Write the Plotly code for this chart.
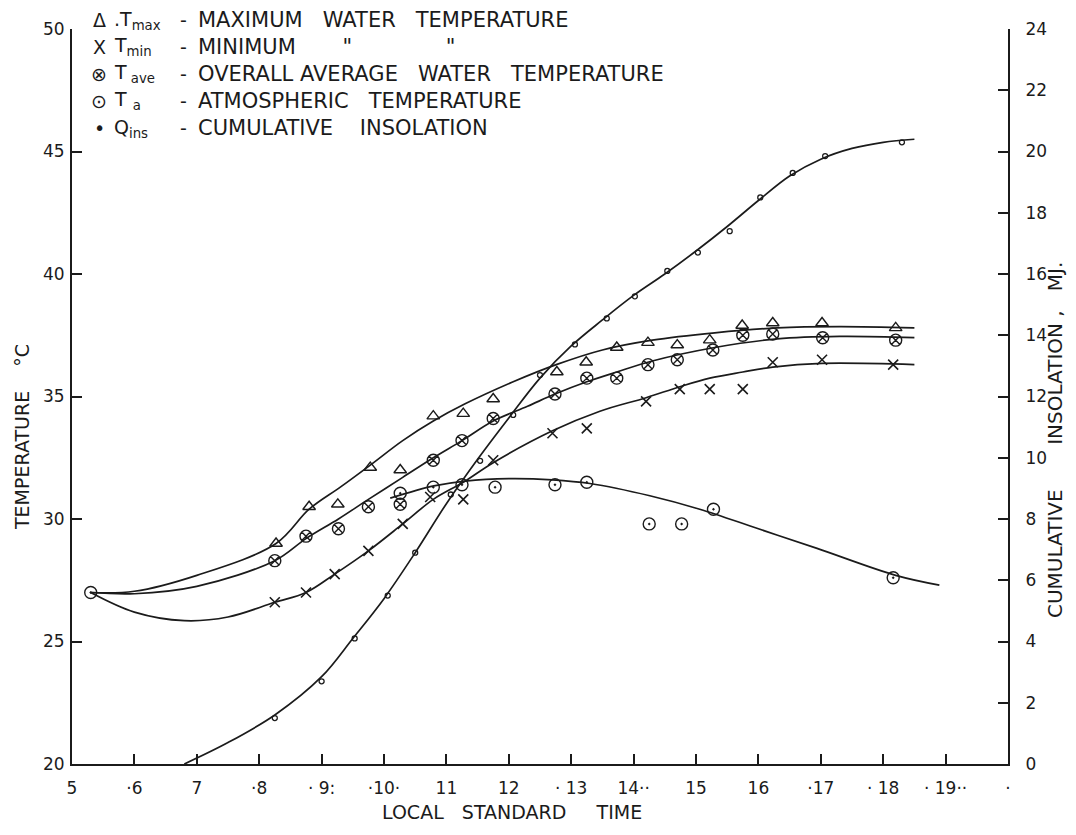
import plotly.graph_objects as go

# ---------------- data ----------------
# Maximum water temperature (triangles)
tmax_t = [8.27, 8.8, 9.26, 9.78, 10.26, 10.79, 11.27, 11.75, 12.77, 13.24, 13.73, 14.23, 14.7, 15.22, 15.74, 16.23, 17.02, 18.2]
tmax_v = [29.0, 30.5, 30.6, 32.1, 32.0, 34.2, 34.3, 34.9, 36.0, 36.4, 37.0, 37.2, 37.1, 37.3, 37.9, 38.0, 38.0, 37.8]
# Minimum water temperature (crosses)
tmin_t = [8.25, 8.75, 9.21, 9.75, 10.3, 10.74, 11.27, 11.75, 12.7, 13.25, 14.2, 14.74, 15.22, 15.75, 16.23, 17.02, 18.16]
tmin_v = [26.6, 27.0, 27.75, 28.7, 29.8, 30.9, 30.8, 32.4, 33.5, 33.7, 34.8, 35.3, 35.3, 35.3, 36.4, 36.5, 36.3]
# Overall average water temperature
tave_t = [8.25, 8.75, 9.27, 9.75, 10.26, 10.79, 11.25, 11.75, 12.74, 13.25, 13.73, 14.23, 14.7, 15.27, 15.75, 16.23, 17.03, 18.2]
tave_v = [28.3, 29.3, 29.6, 30.5, 30.6, 32.4, 33.2, 34.1, 35.1, 35.75, 35.75, 36.3, 36.5, 36.9, 37.5, 37.55, 37.4, 37.3]
# Atmospheric temperature
ta_t = [5.3, 10.26, 10.79, 11.25, 11.78, 12.74, 13.25, 14.25, 14.77, 15.28, 18.16]
ta_v = [27.0, 31.05, 31.3, 31.4, 31.3, 31.4, 31.5, 29.8, 29.8, 30.4, 27.6]
# Cumulative insolation (MJ)
q_t = [8.25, 9.0, 9.53, 10.06, 10.5, 11.07, 11.54, 12.07, 12.5, 13.06, 13.57, 14.02, 14.54, 15.03, 15.54, 16.03, 16.55, 17.07, 18.3]
q_v = [1.5, 2.7, 4.1, 5.5, 6.9, 8.8, 9.9, 11.4, 12.7, 13.7, 14.55, 15.27, 16.1, 16.7, 17.4, 18.5, 19.3, 19.85, 20.3]

# hand-drawn fitted curves (knots)
tmax_curve_t = [5.3, 6.0, 7.0, 8.27, 8.8, 9.3, 9.78, 10.3, 10.79, 11.3, 12.07, 12.76, 13.5, 14.3, 15.3, 16.3, 17.3, 18.5]
tmax_curve_v = [27.0, 27.05, 27.7, 29.0, 30.4, 31.3, 32.2, 33.2, 34.0, 34.7, 35.6, 36.3, 36.9, 37.3, 37.6, 37.8, 37.85, 37.8]
tave_curve_t = [5.3, 6.0, 7.0, 8.25, 8.75, 9.27, 9.75, 10.3, 10.79, 11.25, 11.75, 12.3, 12.74, 13.25, 13.73, 14.3, 15.3, 16.3, 17.3, 18.5]
tave_curve_v = [27.0, 26.95, 27.25, 28.3, 29.2, 30.0, 30.8, 31.7, 32.5, 33.2, 34.0, 34.6, 35.1, 35.6, 36.0, 36.45, 37.0, 37.35, 37.45, 37.4]
tmin_curve_t = [5.3, 6.0, 6.8, 7.5, 8.25, 8.75, 9.21, 9.75, 10.3, 10.79, 11.27, 11.75, 12.7, 13.46, 14.2, 14.74, 15.22, 15.75, 16.23, 17.02, 18.5]
tmin_curve_v = [27.0, 26.2, 25.85, 26.0, 26.6, 27.0, 27.75, 28.7, 29.8, 30.8, 31.5, 32.3, 33.6, 34.4, 34.95, 35.4, 35.75, 36.0, 36.2, 36.35, 36.3]
ta_curve_t = [10.1, 10.8, 11.3, 12.0, 12.7, 13.3, 14.26, 15.06, 16.0, 16.94, 18.2, 18.9]
ta_curve_v = [30.85, 31.35, 31.55, 31.65, 31.6, 31.45, 30.95, 30.4, 29.6, 28.8, 27.7, 27.3]
q_curve_t = [6.8, 7.5, 8.25, 9.0, 9.5, 10.0, 10.5, 11.0, 11.5, 12.0, 12.5, 13.0, 13.5, 14.0, 14.5, 15.0, 15.5, 16.0, 16.5, 17.0, 17.5, 18.0, 18.5]
q_curve_v = [0.0, 0.7, 1.6, 2.85, 4.1, 5.4, 6.9, 8.5, 9.95, 11.3, 12.6, 13.65, 14.5, 15.3, 16.0, 16.75, 17.55, 18.4, 19.2, 19.75, 20.1, 20.3, 20.4]

# axis ticks
x_tickvals = list(range(5, 21))
x_ticktext = ["5", "·6", "7", "·8", "· 9:", "·10·", "11", "12", "· 13", "14··", "15", "16", "·17", "· 18", "· 19··", "·"]
y_tickvals = [20, 25, 30, 35, 40, 45, 50]
y2_tickvals = list(range(0, 25, 2))

NB = "\u00a0"
legend_symbols = ["Δ", "X", "⊗", "⊙", "•"]
legend_names = [".T<sub>max</sub>", "T<sub>min</sub>", "T<sub>" + NB + "ave</sub>", "T" + NB + "<sub>a</sub>", "Q<sub>ins</sub>"]
legend_texts = ["MAXIMUM" + NB * 3 + "WATER" + NB * 3 + "TEMPERATURE",
                "MINIMUM" + NB * 7 + '"' + NB * 14 + '"',
                "OVERALL AVERAGE" + NB * 3 + "WATER" + NB * 3 + "TEMPERATURE",
                "ATMOSPHERIC" + NB * 3 + "TEMPERATURE",
                "CUMULATIVE" + NB * 4 + "INSOLATION"]

# ---------------- figure ----------------
INK = "#1b1b1b"
FONT = "DejaVu Sans"
OFF = 8  # page body margin of the browser (screen px = figure px + OFF)

fig = go.Figure()

def curve(x, y, axis="y"):
    fig.add_trace(go.Scatter(x=x, y=y, mode="lines", yaxis=axis, showlegend=False,
                             line=dict(color=INK, width=1.7, shape="spline", smoothing=1.0),
                             hoverinfo="skip"))

curve(tmax_curve_t, tmax_curve_v)
curve(tave_curve_t, tave_curve_v)
curve(tmin_curve_t, tmin_curve_v)
curve(ta_curve_t, ta_curve_v)
curve(q_curve_t, q_curve_v, "y2")

def marks(x, y, symbol, size, axis="y", width=1.4):
    fig.add_trace(go.Scatter(x=x, y=y, mode="markers", yaxis=axis, showlegend=False,
                             marker=dict(symbol=symbol, size=size, color=INK,
                                         line=dict(color=INK, width=width))))

marks(tmax_t, tmax_v, "triangle-up-open", 11)
marks(tave_t, tave_v, "circle-x-open", 12)
marks(tmin_t, tmin_v, "x-thin-open", 10, width=1.6)
marks(ta_t, ta_v, "circle-open-dot", 12)
marks(q_t, q_v, "circle-open", 5, axis="y2", width=1.3)

# layout geometry (screen px targets: plot area x 72..1008, y 29..764)
W, H = 1076 - 2 * OFF, 835 - 2 * OFF
L, T = 72 - OFF, 29 - OFF
R = W - (1008 - OFF)
B = H - (764 - OFF)
PW, PH = W - L - R, H - T - B

def px(xs, ys):
    return (xs - OFF - L) / PW, 1 - (ys - OFF - T) / PH

# legend block as text (screen px positions)
row_y = [20, 47, 74, 101, 128]
ann = []
for i in range(5):
    for xs, txt, anchor, fs in [(99, legend_symbols[i], "center", 19), (112, legend_names[i], "left", 19),
                                (183, "-", "center", 19), (196, legend_texts[i], "left", 21)]:
        x, y = px(xs, row_y[i])
        ann.append(dict(x=x, y=y, text=txt, showarrow=False, xref="paper", yref="paper",
                        font=dict(size=fs, color=INK, family=FONT), xanchor=anchor, yanchor="middle"))

x, y = px(22, 437)
ann.append(dict(x=x, y=y, xref="paper", yref="paper", showarrow=False, xanchor="center", yanchor="middle",
                text="TEMPERATURE" + NB * 4 + "°C", textangle=-90, font=dict(size=19, color=INK, family=FONT)))
x, y = px(1055, 440)
ann.append(dict(x=x, y=y, xref="paper", yref="paper", showarrow=False, xanchor="center", yanchor="middle",
                text="CUMULATIVE" + NB * 7 + "INSOLATION" + NB + "," + NB * 3 + "MJ.", textangle=-90,
                font=dict(size=20, color=INK, family=FONT)))
x, y = px(512, 812)
ann.append(dict(x=x, y=y, xref="paper", yref="paper", showarrow=False, xanchor="center", yanchor="middle",
                text="LOCAL" + NB * 3 + "STANDARD" + NB * 5 + "TIME", font=dict(size=19, color=INK, family=FONT)))

axis_common = dict(ticks="inside", ticklen=10, tickwidth=1.5, tickcolor=INK, showline=True,
                   linecolor=INK, linewidth=2, showgrid=False, zeroline=False,
                   tickfont=dict(size=17, family=FONT, color=INK))

fig.update_layout(
    width=W, height=H,
    margin=dict(l=L, r=R, t=T, b=B),
    paper_bgcolor="white", plot_bgcolor="white",
    showlegend=False,
    font=dict(family=FONT, color=INK, size=16),
    annotations=ann,
    xaxis=dict(range=[5, 20], tickvals=x_tickvals, ticktext=x_ticktext, ticklabelstandoff=8, **axis_common),
    yaxis=dict(range=[20, 50], tickvals=y_tickvals, ticklabelstandoff=2, **axis_common),
    yaxis2=dict(range=[0, 24], tickvals=y2_tickvals, overlaying="y", side="right", ticklabelstandoff=12,
                **axis_common),
)

fig.write_html("out.html")
